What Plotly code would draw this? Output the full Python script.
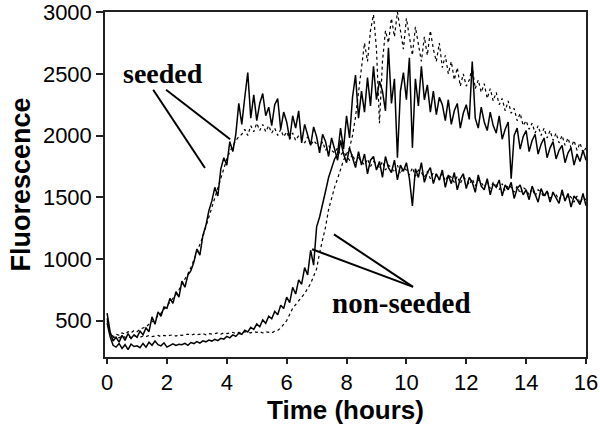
import plotly.graph_objects as go

# time grid (hours), 0.1 h sampling
time_h = [round(i * 0.1, 1) for i in range(161)]

seeded_a = [560, 410, 335, 365, 325, 380, 340, 395, 355, 385,
            365, 415, 385, 440, 410, 530, 470, 570, 535, 610,
            600, 680, 640, 735, 690, 820, 770, 870, 905, 975,
            1080, 1030, 1190, 1270, 1390, 1470, 1580, 1510, 1730, 1820,
            1760, 1950, 1870, 2010, 2260, 2090, 2310, 2510, 2140, 2330,
            2120, 2260, 2340, 2160, 2230, 2080, 2250, 2300, 2050, 2190,
            2110, 1970, 2160, 2060, 2200, 1940, 2090, 2010, 1920, 2070,
            1990, 1860, 2010, 1950, 1830, 1980, 1890, 1800, 1960, 1850,
            1780, 1900, 1820, 1740, 1870, 1760, 1850, 1690, 1800, 1830,
            1720, 1790, 1660, 1830, 1740, 1700, 1800, 1640, 1760, 1710,
            1780, 1650, 1430, 1730, 1660, 1780, 1620, 1700, 1740, 1610,
            1690, 1640, 1720, 1580, 1680, 1610, 1700, 1560, 1650, 1690,
            1570, 1660, 1620, 1540, 1680, 1590, 1560, 1650, 1520, 1610,
            1580, 1640, 1510, 1600, 1560, 1620, 1490, 1570, 1600, 1520,
            1560, 1480, 1590, 1530, 1460, 1570, 1510, 1550, 1460, 1540,
            1500, 1450, 1560, 1470, 1530, 1420, 1510, 1480, 1440, 1530,
            1430]

seeded_b = [520, 400, 370, 390, 380, 400, 390, 410, 400, 420,
            410, 430, 440, 450, 470, 490, 510, 540, 560, 590,
            620, 650, 680, 710, 750, 790, 830, 880, 930, 990,
            1050, 1110, 1180, 1260, 1340, 1420, 1500, 1580, 1660, 1740,
            1810, 1870, 1920, 1960, 1990, 2010, 2050, 2000, 2080, 2030,
            2100, 2040, 2090, 2030, 2080, 2020, 2060, 2000, 2050, 1990,
            2030, 1970, 2020, 1960, 2000, 1980, 1940, 1990, 1920, 1960,
            1930, 1900, 1950, 1880, 1920, 1880, 1860, 1900, 1840, 1870,
            1830, 1800, 1850, 1780, 1820, 1790, 1760, 1810, 1750, 1790,
            1770, 1740, 1790, 1720, 1760, 1740, 1700, 1760, 1690, 1740,
            1720, 1680, 1740, 1670, 1720, 1700, 1660, 1710, 1650, 1700,
            1680, 1640, 1690, 1630, 1680, 1660, 1620, 1670, 1610, 1660,
            1640, 1600, 1650, 1590, 1640, 1620, 1580, 1630, 1570, 1620,
            1600, 1560, 1610, 1550, 1600, 1580, 1540, 1590, 1530, 1580,
            1560, 1520, 1570, 1510, 1560, 1540, 1500, 1550, 1490, 1540,
            1520, 1480, 1530, 1470, 1520, 1500, 1460, 1510, 1450, 1500,
            1480]

nonseeded_a = [480, 370, 300, 285, 315, 275, 305, 265, 310, 290,
               295, 280, 315, 285, 325, 300, 335, 305, 295, 320,
               285, 300, 312, 298, 308, 304, 316, 300, 322, 314,
               330, 318, 336, 328, 342, 334, 348, 338, 356, 350,
               372, 360, 384, 372, 398, 388, 422, 408, 446, 428,
               472, 450, 505, 478, 535, 515, 575, 548, 625, 598,
               690, 645, 770, 715, 830, 795, 930, 870, 1070, 950,
               1260, 1340, 1460, 1550, 1660, 1730, 1810, 1850, 2060, 1890,
               2160, 1980, 2310, 2490, 2140, 2360, 2190, 2470, 2240, 2560,
               2290, 2440, 2360, 2200, 2710, 2260, 2460, 1820, 2360, 2510,
               2290, 2630, 1900, 2460, 2240, 2560, 2290, 2410, 2190, 2360,
               2170, 2310, 2250, 2120, 2290, 2090, 2200, 2260, 2060, 2180,
               2250, 2130, 2600, 2140, 2060, 2230, 2110, 2040, 2190, 2080,
               2020, 2160, 1970, 2050, 2110, 1650, 2000, 2060, 1890, 1990,
               2040, 1870, 1960, 2010, 1850, 1930, 1980, 1820, 1900, 1950,
               1810, 1880, 1920, 1780, 1860, 1900, 1760, 1850, 1790, 1880,
               1800]

nonseeded_b = [500, 400, 360, 370, 360, 375, 365, 370, 360, 375,
               370, 365, 375, 370, 380, 370, 375, 380, 370, 380,
               375, 380, 385, 375, 385, 380, 385, 390, 380, 390,
               385, 390, 395, 385, 395, 390, 395, 400, 390, 400,
               395, 400, 405, 395, 405, 400, 410, 405, 400, 410,
               405, 410, 400, 410, 405, 400, 415, 420, 440, 470,
               500, 550, 600, 630, 660, 690, 720, 760, 800, 860,
               920, 1050, 1150, 1260, 1400, 1500, 1580, 1650, 1720, 1800,
               1850, 1900, 2000, 2150, 2350, 2550, 2750, 2600, 2850, 2980,
               2700, 2100, 2600, 2850, 2750, 2950, 2800, 3000, 2850, 2700,
               2950, 2800, 2650, 2880, 2750, 2600, 2800, 2650, 2850, 2700,
               2600, 2750, 2550, 2650, 2500, 2600, 2450, 2550, 2400, 2500,
               2400, 2450, 2550, 2380, 2450, 2350, 2420, 2300, 2380, 2280,
               2350, 2250, 2300, 2200, 2280, 2180, 2220, 2120, 2180, 2080,
               2120, 2050, 2100, 2020, 2080, 2000, 2060, 1980, 2040, 1960,
               2020, 1940, 2000, 1920, 1980, 1900, 1960, 1880, 1940, 1860,
               1900]

x_ticks = [0, 2, 4, 6, 8, 10, 12, 14, 16]
y_ticks = [500, 1000, 1500, 2000, 2500, 3000]

fig = go.Figure()
fig.add_trace(go.Scatter(x=time_h, y=seeded_b, mode="lines",
                         line=dict(color="black", width=1.2, dash="dot")))
fig.add_trace(go.Scatter(x=time_h, y=nonseeded_b, mode="lines",
                         line=dict(color="black", width=1.2, dash="dot")))
fig.add_trace(go.Scatter(x=time_h, y=seeded_a, mode="lines",
                         line=dict(color="black", width=1.5)))
fig.add_trace(go.Scatter(x=time_h, y=nonseeded_a, mode="lines",
                         line=dict(color="black", width=1.5)))

serif = "Liberation Serif, Times New Roman, serif"
fig.add_annotation(x=1.87, y=2500, text="<b>seeded</b>", showarrow=False,
                   font=dict(family=serif, size=28, color="black"))
fig.add_annotation(x=9.85, y=640, text="<b>non-seeded</b>", showarrow=False,
                   font=dict(family=serif, size=29, color="black"))

leader = dict(color="black", width=2)
for x0, y0, x1, y1 in [(1.54, 2371, 3.27, 1737), (1.97, 2371, 4.11, 1970),
                       (10.22, 773, 7.58, 1199), (10.22, 773, 6.85, 1078)]:
    fig.add_shape(type="line", x0=x0, y0=y0, x1=x1, y1=y1, line=leader)

axis_font = dict(family="Liberation Sans, Arial, sans-serif", size=22, color="black")
xtitle_font = dict(family="Liberation Sans, Arial, sans-serif", size=26, color="black")
ytitle_font = dict(family="Liberation Sans, Arial, sans-serif", size=27, color="black")

fig.update_layout(
    width=600, height=430,
    margin=dict(l=105, r=14, t=12, b=73),
    paper_bgcolor="white", plot_bgcolor="white",
    showlegend=False,
    xaxis=dict(range=[-0.07, 16], tickvals=x_ticks, ticks="outside", ticklen=5,
               tickwidth=1.5, tickcolor="#222", showline=True, linecolor="#222",
               linewidth=1.5, mirror=True, showgrid=False, zeroline=False,
               tickfont=axis_font, automargin=False, ticklabeloverflow="allow",
               title=dict(text="<b>Time (hours)</b>", font=xtitle_font, standoff=2)),
    yaxis=dict(range=[205, 3001], tickvals=y_ticks, ticks="outside", ticklen=7,
               tickwidth=1.5, tickcolor="#222", showline=True, linecolor="#222",
               linewidth=1.5, mirror=True, showgrid=False, zeroline=False,
               tickfont=axis_font, automargin=False, ticklabeloverflow="allow",
               title=dict(text="<b>Fluorescence</b>", font=ytitle_font, standoff=4)),
)

fig.write_html("out.html", config={"displayModeBar": False},
               post_script="document.body.style.margin='0';")
